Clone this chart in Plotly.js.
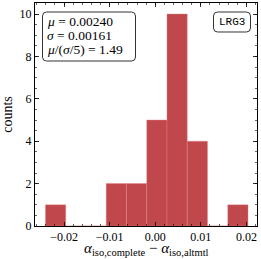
<!DOCTYPE html>
<html><head><meta charset="utf-8">
<script src="https://cdn.plot.ly/plotly-3.0.1.min.js"></script>
<style>html,body{margin:0;padding:0;background:#fff}</style>
</head><body>
<div id="chart" style="width:261px;height:259px"></div>
<script>
const binCenters = [-0.02185, -0.01741, -0.01297, -0.00853, -0.00408, 0.00036, 0.00480, 0.00924, 0.01369, 0.01813];
const counts = [1, 0, 0, 2, 2, 5, 10, 4, 0, 1];
const binWidth = 0.00444;
const statLines = ["<i>μ</i> = 0.00240", "<i>σ</i> = 0.00161", "<i>μ</i>/(<i>σ</i>/5) = 1.49"];
const tag = "LRG3";
const xTitle = '<i>α</i><sub>iso,complete</sub> − <i>α</i><sub>iso,altmtl</sub>';
const yTitle = 'counts';
const xTickVals = [-0.02, -0.01, 0, 0.01, 0.02];
const xTickText = ['−0.02', '−0.01', '0.00', '0.01', '0.02'];
const yTickVals = [0, 2, 4, 6, 8, 10];

const W = 261, H = 259, ml = 35, mr = 4, mt = 3, mb = 33;
const pw = W - ml - mr, ph = H - mt - mb;
function rbox(x0, y0, x1, y1, r) {
  const X = v => (v / pw).toFixed(4), Y = v => (1 - v / ph).toFixed(4);
  return `M${X(x0+r)},${Y(y0)} L${X(x1-r)},${Y(y0)} Q${X(x1)},${Y(y0)} ${X(x1)},${Y(y0+r)} L${X(x1)},${Y(y1-r)} Q${X(x1)},${Y(y1)} ${X(x1-r)},${Y(y1)} L${X(x0+r)},${Y(y1)} Q${X(x0)},${Y(y1)} ${X(x0)},${Y(y1-r)} L${X(x0)},${Y(y0+r)} Q${X(x0)},${Y(y0)} ${X(x0+r)},${Y(y0)} Z`;
}
const serif = "Liberation Serif";
const axisCommon = {
  showgrid: false, zeroline: false, showline: true, mirror: 'ticks', linecolor: '#000', linewidth: 1,
  ticks: 'inside', ticklen: 4, tickwidth: 0.8, tickcolor: '#000',
  tickfont: {family: serif, size: 12, color: '#000'}
};
const data = [{
  type: 'bar', x: binCenters, y: counts, width: binWidth,
  marker: {color: 'rgb(192,72,76)', line: {color: 'rgba(225,130,130,0.7)', width: 0.6}},
  hoverinfo: 'skip'
}];
const annotations = statLines.map((t, i) => ({
  xref: 'paper', yref: 'paper', x: 10 / pw, y: 1 - (18 + 14.5 * i) / ph, xanchor: 'left', yanchor: 'middle', align: 'left',
  text: t, showarrow: false, font: {family: serif, size: 13.5, color: '#000'}
}));
annotations.push({xref: 'paper', yref: 'paper', x: 197 / pw, y: 1 - 19 / ph, xanchor: 'center', yanchor: 'middle',
  text: tag, showarrow: false, font: {family: 'Liberation Mono', size: 11, color: '#000'}});
annotations.push({xref: 'paper', yref: 'paper', x: 0.5, y: 1 - (259 - mt) / ph, xanchor: 'center', yanchor: 'bottom',
  text: xTitle, showarrow: false, borderpad: 0, font: {family: serif, size: 15, color: '#000'}});
const layout = {
  width: W, height: H, margin: {l: ml, r: mr, t: mt, b: mb},
  paper_bgcolor: '#fff', plot_bgcolor: '#fff', showlegend: false, bargap: 0,
  xaxis: Object.assign({}, axisCommon, {
    range: [-0.02637, 0.02232], tickvals: xTickVals, ticktext: xTickText,
    minor: {dtick: 0.002, tick0: 0, ticks: 'inside', ticklen: 2, tickwidth: 0.6, tickcolor: '#000', showgrid: false}
  }),
  yaxis: Object.assign({}, axisCommon, {
    range: [0, 10.52], tickvals: yTickVals,
    minor: {dtick: 0.5, tick0: 0, ticks: 'inside', ticklen: 2, tickwidth: 0.6, tickcolor: '#000', showgrid: false},
    title: {text: yTitle, font: {family: serif, size: 14, color: '#000'}, standoff: 6}
  }),
  shapes: [
    {type: 'path', xref: 'paper', yref: 'paper', path: rbox(7.5, 9, 100.5, 58, 4), line: {color: '#333', width: 1}, fillcolor: 'rgba(255,255,255,0.8)'},
    {type: 'path', xref: 'paper', yref: 'paper', path: rbox(178.5, 9, 215.5, 29, 4), line: {color: '#333', width: 1}, fillcolor: 'rgba(255,255,255,0.8)'}
  ],
  annotations: annotations
};
Plotly.newPlot('chart', data, layout, {displayModeBar: false, staticPlot: true});
</script>
</body></html>
